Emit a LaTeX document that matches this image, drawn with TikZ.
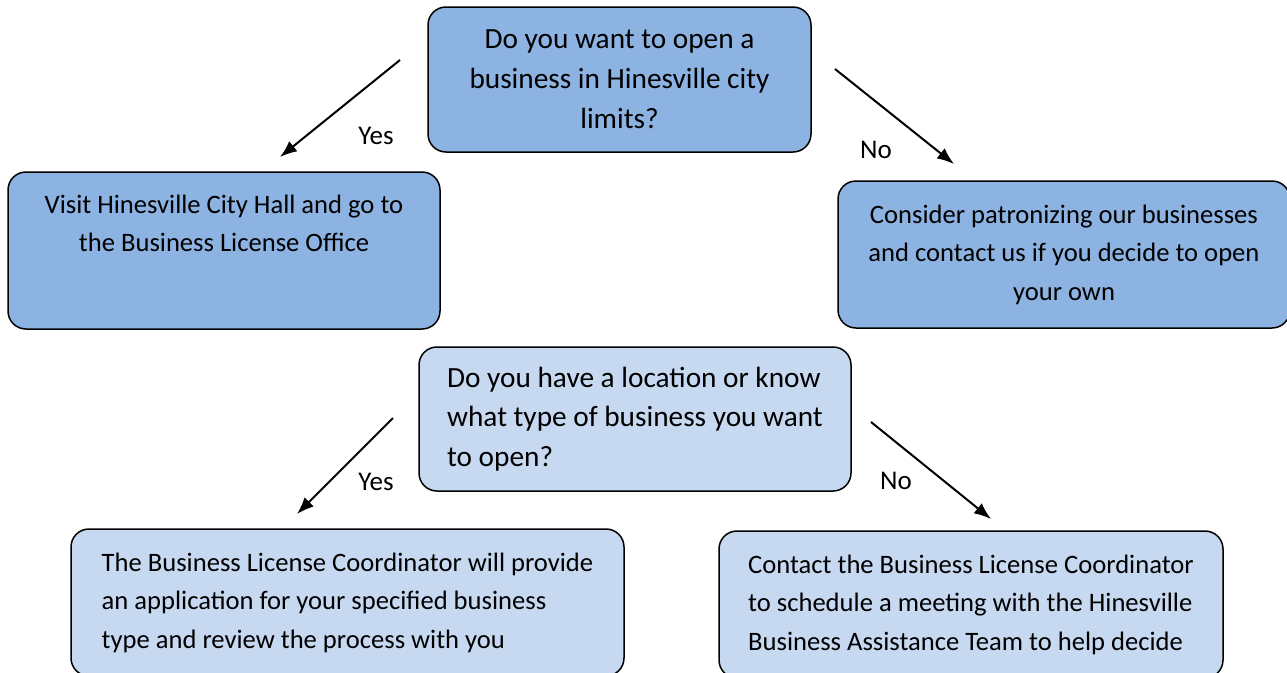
\documentclass[tikz,border=0pt]{standalone}
\usepackage{fontspec}
\setmainfont{Carlito}
\usetikzlibrary{arrows.meta}
\definecolor{darkbox}{RGB}{141,179,226}
\definecolor{lightbox}{RGB}{198,217,241}
\begin{document}
\begin{tikzpicture}[x=1pt,y=-1pt,
		box/.style={draw=black, line width=1.5pt, rounded corners=18pt, inner sep=0pt},
		qtext/.style={font=\fontsize{29.3}{39.8}\selectfont},
		atext/.style={font=\fontsize{26.6}{38.5}\selectfont},
		flow/.style={line width=2pt, -{Latex[length=17pt,width=13pt]}},
		answer/.style={font=\fontsize{27}{32}\selectfont}]
				\useasboundingbox (0,0) rectangle (1287,672);
				\clip (0,0) rectangle (1287,672);
				\node [box, fill=darkbox, qtext, align=center, minimum width=383pt, minimum height=145pt] (q1) at (619.5,79.5) {Do you want to open a\\business in Hinesville city\\limits?};
				\node [box, fill=darkbox, atext, align=center, minimum width=432pt, minimum height=157pt] (a1) at (224,250.5) {Visit Hinesville City Hall and go to\\the Business License Office\\[16pt]~};
				\node [box, fill=darkbox, atext, align=center, minimum width=452pt, minimum height=147pt] (a2) at (1064,254.5) {Consider patronizing our businesses\\and contact us if you decide to open\\your own};
				\node [box, fill=lightbox, qtext, align=left, minimum width=432pt, minimum height=144pt] (q2) at (635,419) {Do you have a location or know\\what type of business you want\\to open?};
				\node [box, fill=lightbox, atext, align=left, minimum width=553pt, minimum height=147pt] (a3) at (347.5,602.5) {The Business License Coordinator will provide\\an application for your specified business\\type and review the process with you};
				\node [box, fill=lightbox, atext, align=left, minimum width=504pt, minimum height=147pt] (a4) at (971,604.5) {Contact the Business License Coordinator\\to schedule a meeting with the Hinesville\\Business Assistance Team to help decide};
				\coordinate (y1s) at (400,60);
				\coordinate (y1e) at (280,157);
				\coordinate (n1s) at (835,69);
				\coordinate (n1e) at (954,164);
				\coordinate (y2s) at (393,418);
				\coordinate (y2e) at (297,514);
				\coordinate (n2s) at (871,422);
				\coordinate (n2e) at (991,519);
				\draw [flow] (y1s) -- (y1e);
				\draw [flow] (n1s) -- (n1e);
				\draw [flow] (y2s) -- (y2e);
				\draw [flow] (n2s) -- (n2e);
				\node [answer] (yes1) at (376,136) {Yes};
				\node [answer] (no1) at (876,150) {No};
				\node [answer] (yes2) at (376,482) {Yes};
				\node [answer] (no2) at (896,481) {No};
			\end{tikzpicture}
\end{document}
